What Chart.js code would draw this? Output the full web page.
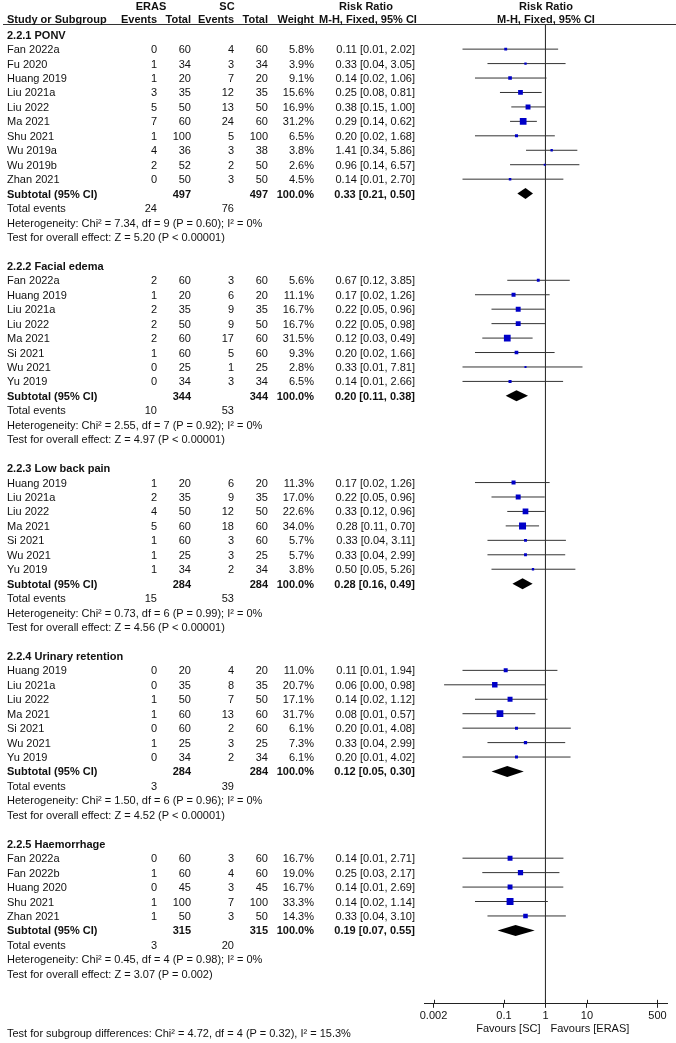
<!DOCTYPE html>
<html lang="en">
<head>
<meta charset="UTF-8" />
<title>ERAS vs SC – Forest plot</title>
<script src="https://cdn.jsdelivr.net/npm/chart.js"></script>
<style>
  body { margin: 0; background: #fff; overflow: hidden; }
  #wrap { position: relative; width: 676px; height: 1043px; font-family: "Liberation Sans", Arial, sans-serif; font-size: 11px; color: #111; }
  #plot { position: absolute; left: 0; top: 0; }
  .t { position: absolute; white-space: nowrap; line-height: 14px; height: 14px; }
  .b { font-weight: bold; }
  .r { transform: translateX(-100%); }
  .c { transform: translateX(-50%); }
  #rule { position: absolute; left: 3px; right: 0; top: 24px; height: 1px; background: #333; }
</style>
</head>
<body>
<div id="wrap">
  <canvas id="plot" width="676" height="1043"></canvas>
  <div id="rule"></div>
</div>

<script>
  // subgroups
  const groups = ['2.2.1 PONV', '2.2.2 Facial edema', '2.2.3 Low back pain', '2.2.4 Urinary retention', '2.2.5 Haemorrhage'];
  const groupSizes = [10, 8, 7, 7, 5];

  // studies, in plot order
  const studies = [
    'Fan 2022a', 'Fu 2020', 'Huang 2019', 'Liu 2021a', 'Liu 2022', 'Ma 2021', 'Shu 2021', 'Wu 2019a', 'Wu 2019b', 'Zhan 2021',
    'Fan 2022a', 'Huang 2019', 'Liu 2021a', 'Liu 2022', 'Ma 2021', 'Si 2021', 'Wu 2021', 'Yu 2019',
    'Huang 2019', 'Liu 2021a', 'Liu 2022', 'Ma 2021', 'Si 2021', 'Wu 2021', 'Yu 2019',
    'Huang 2019', 'Liu 2021a', 'Liu 2022', 'Ma 2021', 'Si 2021', 'Wu 2021', 'Yu 2019',
    'Fan 2022a', 'Fan 2022b', 'Huang 2020', 'Shu 2021', 'Zhan 2021'
  ];
  const erasEvents = [0, 1, 1, 3, 5, 7, 1, 4, 2, 0,  2, 1, 2, 2, 2, 1, 0, 0,  1, 2, 4, 5, 1, 1, 1,  0, 0, 1, 1, 0, 1, 0,  0, 1, 0, 1, 1];
  const erasTotal  = [60, 34, 20, 35, 50, 60, 100, 36, 52, 50,  60, 20, 35, 50, 60, 60, 25, 34,  20, 35, 50, 60, 60, 25, 34,  20, 35, 50, 60, 60, 25, 34,  60, 60, 45, 100, 50];
  const scEvents   = [4, 3, 7, 12, 13, 24, 5, 3, 2, 3,  3, 6, 9, 9, 17, 5, 1, 3,  6, 9, 12, 18, 3, 3, 2,  4, 8, 7, 13, 2, 3, 2,  3, 4, 3, 7, 3];
  const scTotal    = [60, 34, 20, 35, 50, 60, 100, 38, 50, 50,  60, 20, 35, 50, 60, 60, 25, 34,  20, 35, 50, 60, 60, 25, 34,  20, 35, 50, 60, 60, 25, 34,  60, 60, 45, 100, 50];
  const weights    = [5.8, 3.9, 9.1, 15.6, 16.9, 31.2, 6.5, 3.8, 2.6, 4.5,  5.6, 11.1, 16.7, 16.7, 31.5, 9.3, 2.8, 6.5,  11.3, 17.0, 22.6, 34.0, 5.7, 5.7, 3.8,  11.0, 20.7, 17.1, 31.7, 6.1, 7.3, 6.1,  16.7, 19.0, 16.7, 33.3, 14.3];
  const rr         = [0.11, 0.33, 0.14, 0.25, 0.38, 0.29, 0.20, 1.41, 0.96, 0.14,  0.67, 0.17, 0.22, 0.22, 0.12, 0.20, 0.33, 0.14,  0.17, 0.22, 0.33, 0.28, 0.33, 0.33, 0.50,  0.11, 0.06, 0.14, 0.08, 0.20, 0.33, 0.20,  0.14, 0.25, 0.14, 0.14, 0.33];
  const ciLow      = [0.01, 0.04, 0.02, 0.08, 0.15, 0.14, 0.02, 0.34, 0.14, 0.01,  0.12, 0.02, 0.05, 0.05, 0.03, 0.02, 0.01, 0.01,  0.02, 0.05, 0.12, 0.11, 0.04, 0.04, 0.05,  0.01, 0.0036, 0.02, 0.01, 0.01, 0.04, 0.01,  0.01, 0.03, 0.01, 0.02, 0.04];
  const ciHigh     = [2.02, 3.05, 1.06, 0.81, 1.00, 0.62, 1.68, 5.86, 6.57, 2.70,  3.85, 1.26, 0.96, 0.98, 0.49, 1.66, 7.81, 2.66,  1.26, 0.96, 0.96, 0.70, 3.11, 2.99, 5.26,  1.94, 0.98, 1.12, 0.57, 4.08, 2.99, 4.02,  2.71, 2.17, 2.69, 1.14, 3.10];

  // subtotals per subgroup
  const subRR    = [0.33, 0.20, 0.28, 0.12, 0.19];
  const subLow   = [0.21, 0.11, 0.16, 0.05, 0.07];
  const subHigh  = [0.50, 0.38, 0.49, 0.30, 0.55];
  const subErasN = [497, 344, 284, 284, 315];
  const subScN   = [497, 344, 284, 284, 315];
  const totErasEvents = [24, 10, 15, 3, 3];
  const totScEvents   = [76, 53, 53, 39, 20];
  const heterogeneity = [
    'Heterogeneity: Chi² = 7.34, df = 9 (P = 0.60); I² = 0%',
    'Heterogeneity: Chi² = 2.55, df = 7 (P = 0.92); I² = 0%',
    'Heterogeneity: Chi² = 0.73, df = 6 (P = 0.99); I² = 0%',
    'Heterogeneity: Chi² = 1.50, df = 6 (P = 0.96); I² = 0%',
    'Heterogeneity: Chi² = 0.45, df = 4 (P = 0.98); I² = 0%'
  ];
  const overallEffect = [
    'Test for overall effect: Z = 5.20 (P < 0.00001)',
    'Test for overall effect: Z = 4.97 (P < 0.00001)',
    'Test for overall effect: Z = 4.56 (P < 0.00001)',
    'Test for overall effect: Z = 4.52 (P < 0.00001)',
    'Test for overall effect: Z = 3.07 (P = 0.002)'
  ];
  const subgroupTest = 'Test for subgroup differences: Chi² = 4.72, df = 4 (P = 0.32), I² = 15.3%';
  const xTicks = [0.002, 0.1, 1, 10, 500];

  // row numbers (one row = one line of the table)
  const headerRow = [], studyRow = [], subRow = [];
  let row = 0;
  groups.forEach((g, gi) => {
    headerRow.push(row);
    for (let j = 0; j < groupSizes[gi]; j++) studyRow.push(row + 1 + j);
    subRow.push(row + groupSizes[gi] + 1);
    row += groupSizes[gi] + 6;
  });
  const yMin = -0.74, yMax = 67.08;

  const ciData = [];
  studies.forEach((s, i) => {
    ciData.push({x: ciLow[i], y: studyRow[i]}, {x: ciHigh[i], y: studyRow[i]}, {x: NaN, y: NaN});
  });

  // subtotal diamonds
  const diamonds = {
    id: 'diamonds',
    afterDatasetsDraw(chart) {
      const {ctx, scales: {x, y}} = chart;
      ctx.save();
      ctx.fillStyle = '#000';
      subRR.forEach((v, i) => {
        const yy = y.getPixelForValue(subRow[i]);
        ctx.beginPath();
        ctx.moveTo(x.getPixelForValue(subLow[i]), yy);
        ctx.lineTo(x.getPixelForValue(v), yy - 5.5);
        ctx.lineTo(x.getPixelForValue(subHigh[i]), yy);
        ctx.lineTo(x.getPixelForValue(v), yy + 5.5);
        ctx.closePath();
        ctx.fill();
      });
      ctx.restore();
    }
  };

  // tick marks also poke above the axis line
  const tickUp = {
    id: 'tickUp',
    afterDraw(chart) {
      const {ctx, chartArea, scales: {x}} = chart;
      ctx.save();
      ctx.strokeStyle = '#222';
      ctx.lineWidth = 1;
      x.ticks.forEach(t => {
        const px = Math.round(x.getPixelForValue(t.value)) + 0.5;
        ctx.beginPath();
        ctx.moveTo(px, chartArea.bottom - 4);
        ctx.lineTo(px, chartArea.bottom);
        ctx.stroke();
      });
      ctx.restore();
    }
  };

  const chart = new Chart(document.getElementById('plot'), {
    type: 'scatter',
    data: {
      datasets: [
        {
          label: 'Study',
          data: studies.map((s, i) => ({x: rr[i], y: studyRow[i]})),
          pointStyle: 'rect',
          pointRadius: weights.map(w => 1.2 * Math.sqrt(w) / Math.SQRT2),
          backgroundColor: '#0000c8',
          borderWidth: 0,
          order: 0
        },
        {
          label: 'CI',
          data: ciData,
          showLine: true,
          spanGaps: false,
          pointRadius: 0,
          borderColor: '#333',
          borderWidth: 1,
          order: 1
        },
        {
          label: 'No effect',
          data: [{x: 1, y: yMin}, {x: 1, y: yMax}],
          showLine: true,
          pointRadius: 0,
          borderColor: '#333',
          borderWidth: 1,
          order: 2
        }
      ]
    },
    options: {
      responsive: false,
      animation: false,
      layout: { padding: { left: 424, right: 9, top: 24, bottom: 18 } },
      plugins: { legend: { display: false }, tooltip: { enabled: false } },
      scales: {
        x: {
          type: 'logarithmic',
          min: 0.00118,
          max: 850,
          afterBuildTicks: s => { s.ticks = xTicks.map(v => ({value: v})); },
          ticks: {
            autoSkip: false,
            maxRotation: 0,
            padding: 2,
            color: '#111',
            font: { family: '"Liberation Sans", Arial, sans-serif', size: 11 },
            callback: v => String(v)
          },
          grid: { drawOnChartArea: false, tickLength: 4, color: '#222' },
          border: { color: '#222', width: 1 }
        },
        y: { type: 'linear', reverse: true, min: yMin, max: yMax, display: false }
      }
    },
    plugins: [diamonds, tickUp]
  });

  // table text, placed on the chart's own rows
  const wrap = document.getElementById('wrap');
  const Y = r => chart.scales.y.getPixelForValue(r);
  const put = (txt, x, y, cls) => {
    const d = document.createElement('div');
    d.className = 't ' + (cls || '');
    d.textContent = txt;
    d.style.left = x + 'px';
    d.style.top = (y - 7) + 'px';
    wrap.appendChild(d);
  };
  const fmt = v => v.toFixed(2);
  const col = { name: 7, ee: 157, et: 191, se: 234, st: 268, w: 314, rr: 415 };

  put('ERAS', 151, 6, 'b c');
  put('SC', 227, 6, 'b c');
  put('Risk Ratio', 366, 6, 'b c');
  put('Risk Ratio', 546, 6, 'b c');
  put('Study or Subgroup', col.name, 19, 'b');
  put('Events', col.ee, 19, 'b r');
  put('Total', col.et, 19, 'b r');
  put('Events', col.se, 19, 'b r');
  put('Total', col.st, 19, 'b r');
  put('Weight', col.w, 19, 'b r');
  put('M-H, Fixed, 95% CI', 368, 19, 'b c');
  put('M-H, Fixed, 95% CI', 546, 19, 'b c');

  studies.forEach((s, i) => {
    const y = Y(studyRow[i]);
    put(s, col.name, y);
    put(String(erasEvents[i]), col.ee, y, 'r');
    put(String(erasTotal[i]), col.et, y, 'r');
    put(String(scEvents[i]), col.se, y, 'r');
    put(String(scTotal[i]), col.st, y, 'r');
    put(weights[i].toFixed(1) + '%', col.w, y, 'r');
    put(`${fmt(rr[i])} [${fmt(ciLow[i])}, ${fmt(ciHigh[i])}]`, col.rr, y, 'r');
  });

  groups.forEach((g, gi) => {
    put(g, col.name, Y(headerRow[gi]), 'b');
    const ys = Y(subRow[gi]);
    put('Subtotal (95% CI)', col.name, ys, 'b');
    put(String(subErasN[gi]), col.et, ys, 'b r');
    put(String(subScN[gi]), col.st, ys, 'b r');
    put('100.0%', col.w, ys, 'b r');
    put(`${fmt(subRR[gi])} [${fmt(subLow[gi])}, ${fmt(subHigh[gi])}]`, col.rr, ys, 'b r');
    put('Total events', col.name, Y(subRow[gi] + 1));
    put(String(totErasEvents[gi]), col.ee, Y(subRow[gi] + 1), 'r');
    put(String(totScEvents[gi]), col.se, Y(subRow[gi] + 1), 'r');
    put(heterogeneity[gi], col.name, Y(subRow[gi] + 2));
    put(overallEffect[gi], col.name, Y(subRow[gi] + 3));
  });

  const x1 = chart.scales.x.getPixelForValue(1);
  const axisY = chart.chartArea.bottom;
  put('Favours [SC]', x1 - 5, axisY + 24, 'r');
  put('Favours [ERAS]', x1 + 5, axisY + 24);
  put(subgroupTest, col.name, 1033);
</script>
</body>
</html>
